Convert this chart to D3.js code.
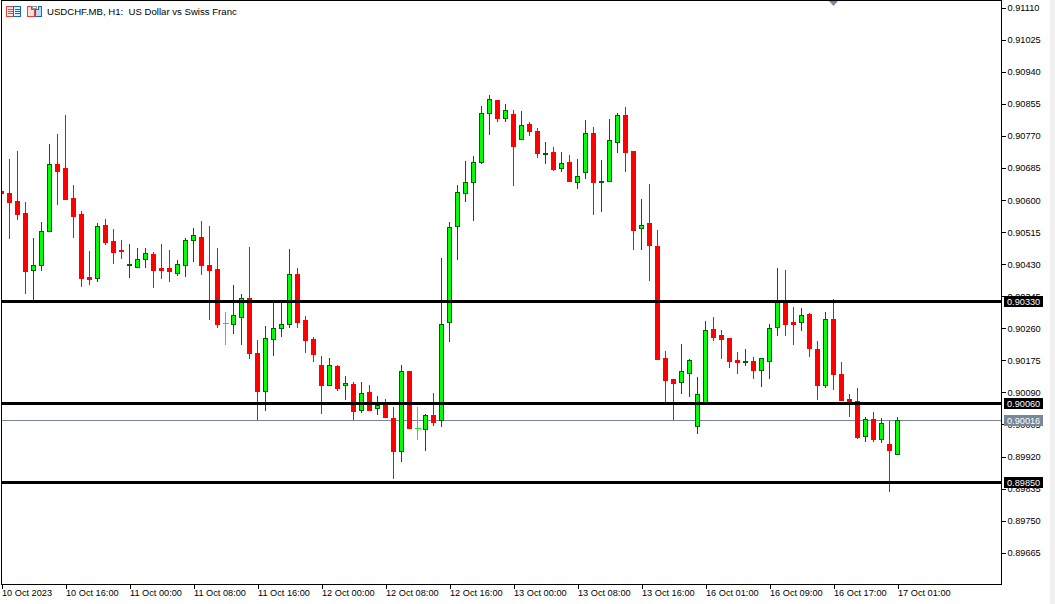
<!DOCTYPE html>
<html><head><meta charset="utf-8">
<script src="https://cdnjs.cloudflare.com/ajax/libs/d3/7.8.5/d3.min.js"></script>
<style>html,body{margin:0;padding:0;background:#fff;overflow:hidden}svg{display:block}</style>
</head><body><div id="chart"></div>
<script>
const title = "USDCHF.MB, H1:  US Dollar vs Swiss Franc";
const priceTicks = [0.91110,0.91025,0.90940,0.90855,0.90770,0.90685,0.90600,0.90515,0.90430,0.90345,0.90260,0.90175,0.90090,0.90005,0.89920,0.89835,0.89750,0.89665];
const timeLabels = ["10 Oct 2023","10 Oct 16:00","11 Oct 00:00","11 Oct 08:00","11 Oct 16:00","12 Oct 00:00","12 Oct 08:00","12 Oct 16:00","13 Oct 00:00","13 Oct 08:00","13 Oct 16:00","16 Oct 01:00","16 Oct 09:00","16 Oct 17:00","17 Oct 01:00"];
const levels = [0.90330,0.90060,0.89850];
const lastPrice = 0.90016;
const open = [90623,90617,90596,90564,90414,90425,90517,90693,90683,90603,90561,90395,90393,90532,90489,90466,90425,90422,90443,90455,90419,90419,90406,90427,90492,90500,90426,90415,90272,90271,90289,90338,90192,90093,90231,90258,90269,90402,90281,90230,90161,90109,90159,90107,90111,90043,90089,90046,90063,90021,89932,90145,89994,89992,90028,90015,90275,90529,90617,90646,90699,90829,90863,90817,90826,90760,90800,90781,90722,90725,90683,90699,90646,90672,90776,90645,90650,90753,90823,90728,90523,90537,90476,90179,90123,90117,90141,89999,90061,90256,90240,90232,90174,90169,90171,90149,90173,90261,90328,90275,90276,90296,90203,90107,90283,90137,90071,90065,89974,90017,89966,89951,89925];
const high = [90624,90707,90729,90593,90498,90540,90747,90774,90824,90639,90570,90464,90537,90548,90522,90493,90482,90472,90472,90461,90482,90466,90439,90498,90524,90543,90530,90472,90302,90372,90350,90474,90228,90265,90327,90327,90469,90419,90291,90236,90185,90180,90161,90132,90116,90116,90108,90079,90071,90050,90161,90146,90050,90031,90087,90445,90540,90638,90702,90715,90847,90877,90864,90853,90837,90834,90806,90789,90753,90739,90726,90718,90707,90811,90792,90705,90813,90829,90844,90728,90601,90641,90519,90198,90124,90217,90177,90130,90278,90289,90254,90232,90196,90204,90183,90180,90270,90419,90413,90315,90313,90299,90224,90302,90336,90169,90085,90100,90023,90036,90020,90013,90023];
const low = [90615,90496,90546,90350,90334,90411,90515,90586,90599,90499,90369,90372,90380,90478,90430,90443,90393,90422,90417,90366,90390,90382,90398,90395,90435,90401,90281,90258,90214,90244,90214,90177,90014,90040,90186,90236,90258,90260,90194,90170,90031,90109,90093,90069,90016,90035,90038,90029,90022,89860,89905,89995,89963,89934,90000,89998,90223,90440,90592,90544,90694,90771,90806,90806,90636,90760,90768,90710,90694,90676,90674,90650,90628,90654,90559,90567,90646,90723,90673,90466,90466,90384,90178,90063,90016,90085,90077,89979,90061,90226,90178,90154,90138,90159,90125,90104,90125,90239,90239,90215,90252,90181,90067,90101,90096,90067,90024,89966,89958,89958,89953,89825,89925];
const close = [90616,90594,90562,90409,90426,90517,90693,90676,90600,90557,90393,90390,90529,90486,90462,90464,90429,90442,90457,90414,90414,90409,90428,90492,90505,90425,90414,90271,90272,90293,90338,90194,90093,90232,90259,90269,90402,90276,90228,90189,90109,90161,90099,90113,90040,90086,90043,90055,90022,89934,90145,89995,89994,90028,90011,90269,90526,90619,90646,90699,90829,90866,90817,90837,90743,90797,90782,90722,90723,90682,90696,90650,90662,90776,90645,90648,90757,90823,90727,90520,90532,90478,90178,90122,90114,90145,90174,90084,90253,90236,90231,90173,90170,90171,90149,90179,90259,90327,90271,90271,90293,90205,90109,90283,90138,90069,90063,89971,90017,89966,90007,89937,90015];

const W = 1055, H = 604;
const frameLeft = 1.5, frameRight = 1001.5, frameBottom = 584.5;
const svg = d3.select("#chart").append("svg").attr("width", W).attr("height", H).attr("viewBox", `0 0 ${W} ${H}`);
const font = "'Liberation Sans', Arial, sans-serif";

const x = d3.scaleLinear().domain([0, 112]).range([1.5, 897.5]);
const y = d3.scaleLinear().domain([0.89665, 0.91110]).range([552.1, 7.1]);
const price = v => v / 100000;

svg.append("rect").attr("x", 1050).attr("y", 0).attr("width", 5).attr("height", H).attr("fill", "#f0f0f0");

const clipId = "plotClip";
svg.append("clipPath").attr("id", clipId).append("rect").attr("x", frameLeft).attr("y", 0).attr("width", frameRight - frameLeft).attr("height", frameBottom);
const plot = svg.append("g").attr("clip-path", `url(#${clipId})`);

plot.append("line").attr("x1", frameLeft).attr("x2", frameRight)
  .attr("y1", Math.round(y(lastPrice)) + .5).attr("y2", Math.round(y(lastPrice)) + .5)
  .attr("stroke", "#778899").attr("stroke-width", 1).attr("shape-rendering", "crispEdges");

const idx = d3.range(open.length);
const wickColor = i => close[i] > open[i] ? "#006400" : close[i] < open[i] ? "#b22222" : "#00ff00";
const px = i => Math.floor(x(i)) + .5;

plot.append("g").selectAll("line").data(idx).join("line")
  .attr("x1", px).attr("x2", px)
  .attr("y1", i => y(price(high[i]))).attr("y2", i => y(price(low[i])))
  .attr("stroke", wickColor).attr("stroke-width", 1).attr("shape-rendering", "crispEdges");

plot.append("g").selectAll("rect").data(idx.filter(i => close[i] !== open[i])).join("rect")
  .attr("x", i => px(i) - 2)
  .attr("width", 4)
  .attr("y", i => Math.round(y(price(Math.max(open[i], close[i])))) + .5)
  .attr("height", i => Math.max(1, Math.round(y(price(Math.min(open[i], close[i])))) - Math.round(y(price(Math.max(open[i], close[i]))))))
  .attr("fill", i => close[i] > open[i] ? "#00ff00" : "#ff0000")
  .attr("stroke", i => close[i] > open[i] ? "#006400" : "#ff0000")
  .attr("stroke-width", 1).attr("shape-rendering", "crispEdges");

plot.append("g").selectAll("line").data(idx.filter(i => close[i] === open[i])).join("line")
  .attr("x1", i => px(i) - 2.5).attr("x2", i => px(i) + 3)
  .attr("y1", i => Math.round(y(price(open[i]))) + .5).attr("y2", i => Math.round(y(price(open[i]))) + .5)
  .attr("stroke", "#00ff00").attr("stroke-width", 1).attr("shape-rendering", "crispEdges");

plot.append("g").selectAll("line").data(levels).join("line")
  .attr("x1", frameLeft).attr("x2", frameRight)
  .attr("y1", d => y(d)).attr("y2", d => y(d))
  .attr("stroke", "#000").attr("stroke-width", 3).attr("shape-rendering", "crispEdges");

// axes
const yAxis = d3.axisRight(y).tickValues(priceTicks).tickFormat(d3.format(".5f")).tickSize(4).tickPadding(2);
const gy = svg.append("g").attr("transform", `translate(${frameRight},0.6)`).call(yAxis);
gy.select(".domain").remove();
gy.selectAll("line").attr("stroke", "#000").attr("shape-rendering", "crispEdges");
gy.selectAll("text").attr("font-family", font).attr("font-size", 9.2).attr("fill", "#000");

const xTicks = timeLabels.map((_, k) => k * 8);
const xAxis = d3.axisBottom(x).tickValues(xTicks).tickFormat((d, k) => timeLabels[k]).tickSize(4).tickPadding(1);
const gx = svg.append("g").attr("transform", `translate(0,${frameBottom})`).call(xAxis);
gx.select(".domain").remove();
gx.selectAll("line").attr("stroke", "#000").attr("shape-rendering", "crispEdges");
gx.selectAll("text").attr("font-family", font).attr("font-size", 9.2).attr("fill", "#000")
  .attr("text-anchor", "start").attr("dx", 0);

// frame
svg.append("path").attr("d", `M${frameLeft},${frameBottom}V0.5H${frameRight}V${frameBottom}Z`)
  .attr("fill", "none").attr("stroke", "#000").attr("stroke-width", 1).attr("shape-rendering", "crispEdges");

// price tags
const tags = svg.append("g").selectAll("g")
  .data([...levels.map(v => ({v, c: "#000"})), {v: lastPrice, c: "#778899"}]).join("g")
  .attr("transform", d => `translate(1004,${Math.round(y(d.v))})`);
tags.append("rect").attr("x", 0).attr("y", -5).attr("width", 39).attr("height", 11).attr("fill", d => d.c);
tags.append("text").attr("x", 3).attr("y", 4).attr("font-family", font).attr("font-size", 9.2).attr("fill", "#fff")
  .text(d => d3.format(".5f")(d.v));

// top marker
svg.append("path").attr("d", "M829,1H838L833.5,6Z").attr("fill", "#778899");

// header icons
const ic = svg.append("g").attr("shape-rendering", "crispEdges");
ic.append("rect").attr("x", 6.5).attr("y", 6.5).attr("width", 7).attr("height", 10).attr("fill", "#fde8e8").attr("stroke", "#e8413c");
ic.append("rect").attr("x", 13.5).attr("y", 6.5).attr("width", 7).attr("height", 10).attr("fill", "#e4f0fb").attr("stroke", "#0f6cbd");
ic.append("g").selectAll("line").data([9.5, 11.5, 13.5]).join("line")
  .attr("x1", 8).attr("x2", 13).attr("y1", d => d).attr("y2", d => d).attr("stroke", "#e8413c");
ic.append("g").selectAll("line").data([9.5, 11.5, 13.5]).join("line")
  .attr("x1", 15).attr("x2", 20).attr("y1", d => d).attr("y2", d => d).attr("stroke", "#0f6cbd");
ic.append("path").attr("d", "M27.5,6.5H31.5V9.5H34.5V16.5H27.5Z").attr("fill", "#fde0dc").attr("stroke", "#e8413c");
ic.append("path").attr("d", "M35.5,9.5H38.5V6.5H41.5V16.5H35.5Z").attr("fill", "#bcdcf5").attr("stroke", "#0f6cbd");
ic.append("rect").attr("x", 32.5).attr("y", 6.5).attr("width", 4).attr("height", 2).attr("fill", "#fff").attr("stroke", "#999");

svg.append("text").attr("x", 47).attr("y", 15).attr("font-family", font).attr("font-size", 9.6).attr("fill", "#000")
  .attr("xml:space", "preserve").style("white-space", "pre").text(title);
</script></body></html>
